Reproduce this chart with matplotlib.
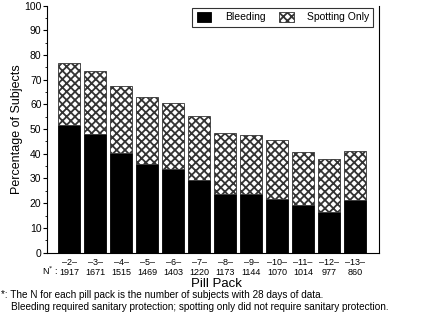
import numpy as np
import matplotlib.pyplot as plt

plt.rcParams['font.family'] = ['Liberation Sans', 'DejaVu Sans']
plt.rcParams['hatch.linewidth'] = 1.3

packs = ['2', '3', '4', '5', '6', '7', '8', '9', '10', '11', '12', '13']
n_subjects = [1917, 1671, 1515, 1469, 1403, 1220, 1173, 1144, 1070, 1014, 977, 860]
bleeding = [51.7, 47.9, 40.2, 35.8, 33.9, 29.2, 23.8, 23.7, 21.7, 19.3, 16.4, 21.3]
total = [76.7, 73.6, 67.6, 63.0, 60.6, 55.2, 48.6, 47.5, 45.5, 40.9, 37.8, 41.3]
spotting = [t - b for t, b in zip(total, bleeding)]

fig = plt.figure(figsize=(4.32, 3.31), dpi=100)
ax = fig.add_axes([0.109, 0.237, 0.768, 0.746])

x = np.arange(len(packs))
ax.bar(x, bleeding, width=0.85, color='black', edgecolor='black',
       linewidth=0.6, label='Bleeding')
ax.bar(x, spotting, width=0.85, bottom=bleeding, color='white',
       edgecolor='#333333', hatch='xxxx', linewidth=0.6, label='Spotting Only')

ax.set_xlim(-0.85, len(packs) - 0.08)
ax.set_ylim(0, 100)
ax.set_yticks(np.arange(0, 101, 10))
ax.set_yticks(np.arange(0, 101, 5), minor=True)
ax.tick_params(axis='y', direction='out', length=3, width=0.8, labelsize=7.5,
               pad=1)
ax.tick_params(axis='y', which='minor', length=1.5)
ax.set_xticks(x)
ax.set_xticklabels([f'\u2013{p}\u2013\n{n}' for p, n in zip(packs, n_subjects)],
                   fontsize=6.5, linespacing=1.1)
ax.tick_params(axis='x', length=0, pad=4)
ax.spines['top'].set_visible(False)
for s in ['left', 'bottom', 'right']:
    ax.spines[s].set_linewidth(0.8)

fig.text(0.098, 0.181, 'N$^{*}$ :', fontsize=6.5, ha='left', va='center')
ax.set_ylabel('Percentage of Subjects', fontsize=9, labelpad=1)
fig.text(0.5, 0.142, 'Pill Pack', fontsize=9.5, ha='center', va='center')

leg = ax.legend(loc='upper right', ncol=2, fontsize=7.5, frameon=True,
                fancybox=False, edgecolor='black', handlelength=1.4,
                handleheight=1.1, handletextpad=1.3, columnspacing=1.3,
                borderaxespad=0.2, bbox_to_anchor=(0.99, 1.0))
leg.get_frame().set_linewidth(0.8)

fig.text(0.003, 0.108, '*: The N for each pill pack is the number of subjects with 28 days of data.',
         fontsize=7.2, ha='left', va='center')
fig.text(0.025, 0.074, 'Bleeding required sanitary protection; spotting only did not require sanitary protection.',
         fontsize=7.2, ha='left', va='center')

fig.savefig('out.png', dpi=100)
